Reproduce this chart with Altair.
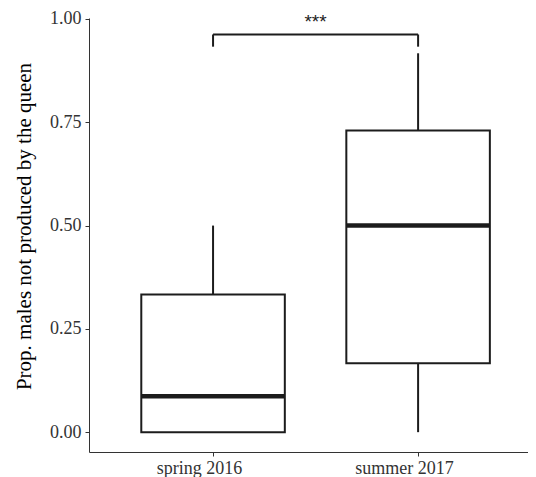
import altair as alt
import pandas as pd

categories = ["spring 2016", "summer 2017"]
mins = [0.0, 0.0]
q1s = [0.0, 0.167]
medians = [0.087, 0.5]
q3s = [0.333, 0.73]
maxs = [0.5, 0.917]
box_half = 0.35

bracket_y = 0.9625
bracket_tip = 0.933
label_y = 0.979
label_text = "***"

positions = [i + 1 for i in range(len(categories))]
df = pd.DataFrame({
    "cat": categories, "pos": positions,
    "lo": [p - box_half for p in positions], "hi": [p + box_half for p in positions],
    "min": mins, "q1": q1s, "med": medians, "q3": q3s, "max": maxs,
})
br_h = pd.DataFrame({"x": [positions[0]], "x2": [positions[1]], "y": [bracket_y]})
br_v = pd.DataFrame({"x": positions, "y": [bracket_tip] * 2, "y2": [bracket_y] * 2})
txt = pd.DataFrame({"x": [sum(positions) / len(positions)], "y": [label_y], "t": [label_text]})

label_expr = " : ".join(
    [f"datum.value == {p} ? '{c}'" for p, c in zip(positions, categories)]) + " : ''"

dark = "#1c1c1c"
xs = alt.Scale(domain=[0.395, 2.536], nice=False, zero=False)
ys = alt.Scale(domain=[-0.048, 1.0024], nice=False, zero=False)

xax = alt.Axis(values=positions, labelExpr=label_expr, title=None, labelOffset=-14,
               labelPadding=3)
yax = alt.Axis(values=[0, 0.25, 0.5, 0.75, 1.0], format=".2f",
               title="Prop. males not produced by the queen", titleY=208)


def X(f):
    return alt.X(f, scale=xs, axis=xax)


def Y(f):
    return alt.Y(f, scale=ys, axis=yax)


base = alt.Chart(df)
lower = base.mark_rule(color=dark, strokeWidth=2).encode(
    x=X("pos:Q"), y=Y("min:Q"), y2="q1:Q")
upper = base.mark_rule(color=dark, strokeWidth=2).encode(
    x=X("pos:Q"), y=Y("q3:Q"), y2="max:Q")
box = base.mark_rect(fill="white", stroke=dark, strokeWidth=2).encode(
    x=X("lo:Q"), x2="hi:Q", y=Y("q1:Q"), y2="q3:Q")
med = base.mark_rule(color=dark, strokeWidth=4.5).encode(
    x=X("lo:Q"), x2="hi:Q", y=Y("med:Q"))
bh = alt.Chart(br_h).mark_rule(color=dark, strokeWidth=2).encode(
    x=X("x:Q"), x2="x2:Q", y=Y("y:Q"))
bv = alt.Chart(br_v).mark_rule(color=dark, strokeWidth=2).encode(
    x=X("x:Q"), y=Y("y:Q"), y2="y2:Q")
tx = alt.Chart(txt).mark_text(font="Liberation Sans", fontSize=19, color=dark,
                              baseline="alphabetic").encode(
    x=X("x:Q"), y=Y("y:Q"), text="t:N")

chart = alt.layer(lower, upper, box, med, bh, bv, tx).properties(
    width=439, height=434,
    autosize=alt.AutoSizeParams(type="none"),
    padding={"left": 81, "top": 10, "right": 0, "bottom": 32},
).configure(background="white").configure_view(strokeWidth=0, stroke="transparent").configure_axis(
    grid=False, tickSize=4, labelPadding=4,
    domainColor="#333333", tickColor="#333333", labelColor="#333333",
    labelFont="Liberation Serif", labelFontSize=18,
    titleFont="Liberation Serif", titleFontSize=21, titleFontWeight="normal",
    titleColor="#000000", titlePadding=15,
)

chart.save("out.html", embed_options={"renderer": "svg", "actions": False})
